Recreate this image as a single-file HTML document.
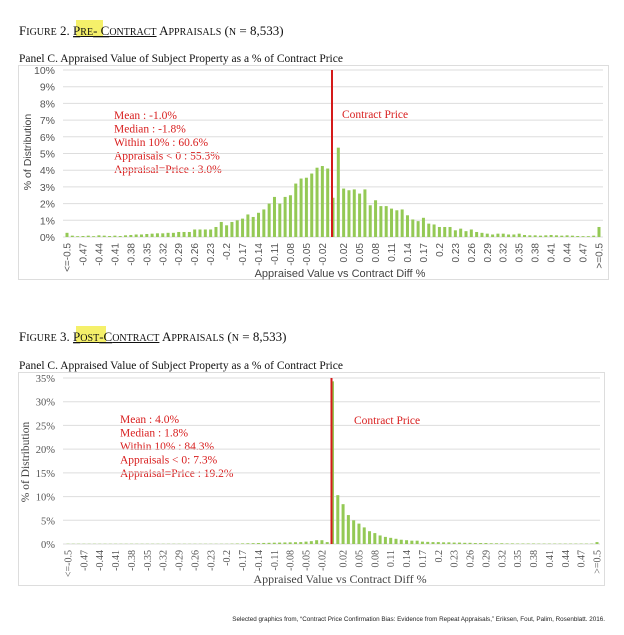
<!DOCTYPE html>
<html><head><meta charset="utf-8"><style>
body{margin:0;background:#fff;width:624px;height:635px;overflow:hidden}
svg{display:block}
.serif{font-family:"Liberation Serif",serif}
.sans{font-family:"Liberation Sans",sans-serif}
</style></head><body>
<svg id="s" width="624" height="635" xmlns="http://www.w3.org/2000/svg">
<rect x="0" y="0" width="624" height="635" fill="#fff"/>
<rect x="76" y="20" width="27" height="17" fill="#f5f06a"/>
<text x="19" y="35" class="serif" font-size="13" fill="#111">F<tspan font-size="10">IGURE</tspan> 2.  <tspan text-decoration="underline">P<tspan font-size="10">RE</tspan>- C<tspan font-size="10">ONTRACT</tspan></tspan> A<tspan font-size="10">PPRAISALS</tspan> (<tspan font-size="10">N</tspan> = 8,533)</text>
<text x="19" y="62" class="serif" font-size="11.5" fill="#111">Panel C. Appraised Value of Subject Property as a % of Contract Price</text>
<rect x="18.5" y="65.5" width="590" height="214" fill="none" stroke="#ddd"/>
<text transform="translate(31,152) rotate(-90)" text-anchor="middle" class="sans" font-size="10.5" fill="#444">% of Distribution</text>
<text x="340" y="277" text-anchor="middle" class="sans" font-size="11" fill="#444">Appraised Value vs Contract Diff %</text>
<g class="serif" font-size="11.5" fill="#d81e1e">
<text x="114" y="119">Mean : -1.0%</text>
<text x="114" y="132.5">Median : -1.8%</text>
<text x="114" y="146">Within 10% : 60.6%</text>
<text x="114" y="159.5">Appraisals &lt; 0 : 55.3%</text>
<text x="114" y="173">Appraisal=Price : 3.0%</text>
<text x="342" y="118">Contract Price</text>
</g>
<rect x="76" y="326" width="30" height="17" fill="#f5f06a"/>
<text x="19" y="341" class="serif" font-size="13" fill="#111">F<tspan font-size="10">IGURE</tspan> 3.  <tspan text-decoration="underline">P<tspan font-size="10">OST</tspan>-C<tspan font-size="10">ONTRACT</tspan></tspan> A<tspan font-size="10">PPRAISALS</tspan> (<tspan font-size="10">N</tspan> = 8,533)</text>
<text x="19" y="369" class="serif" font-size="11.5" fill="#111">Panel C. Appraised Value of Subject Property as a % of Contract Price</text>
<rect x="18.5" y="372.5" width="586" height="213" fill="none" stroke="#ddd"/>
<text transform="translate(29,462) rotate(-90)" text-anchor="middle" class="serif" font-size="11.5" fill="#444">% of Distribution</text>
<text x="340" y="583" text-anchor="middle" class="serif" font-size="12" fill="#444">Appraised Value vs Contract Diff %</text>
<g class="serif" font-size="11.5" fill="#d81e1e">
<text x="120" y="423">Mean : 4.0%</text>
<text x="120" y="436.5">Median : 1.8%</text>
<text x="120" y="450">Within 10% : 84.3%</text>
<text x="120" y="463.5">Appraisals &lt; 0: 7.3%</text>
<text x="120" y="477">Appraisal=Price : 19.2%</text>
<text x="354" y="424">Contract Price</text>
</g>
<text x="605" y="621" text-anchor="end" class="sans" font-size="6.3" fill="#222">Selected graphics from, “Contract Price Confirmation Bias: Evidence from Repeat Appraisals,” Eriksen, Fout, Palim, Rosenblatt. 2016.</text>
<g id="g"></g>
</svg>
<script>
var d1=[0.25,0.08,0.05,0.06,0.08,0.05,0.1,0.08,0.06,0.08,0.06,0.1,0.12,0.15,0.15,0.18,0.2,0.22,0.22,0.25,0.25,0.3,0.3,0.3,0.45,0.45,0.45,0.45,0.6,0.9,0.7,0.9,1.0,1.1,1.35,1.2,1.45,1.65,2.0,2.4,2.0,2.4,2.5,3.2,3.5,3.55,3.8,4.15,4.25,4.1,2.35,5.35,2.9,2.8,2.85,2.6,2.85,1.9,2.2,1.85,1.85,1.7,1.6,1.65,1.3,1.05,0.95,1.15,0.8,0.75,0.6,0.6,0.6,0.4,0.5,0.35,0.45,0.3,0.25,0.2,0.15,0.2,0.2,0.15,0.15,0.2,0.12,0.1,0.1,0.08,0.1,0.12,0.1,0.08,0.1,0.08,0.06,0.05,0.05,0.08,0.6];
var d2=[];for(var i=0;i<101;i++){var v=0.05;if(i>30&&i<45)v=0.05+(i-30)*0.025;d2.push(v);}
[0.5,0.6,0.8,0.8,0.4].forEach(function(v,k){d2[45+k]=v});
var r=[34.3,10.3,8.4,6.1,5.0,4.3,3.5,2.7,2.3,1.8,1.5,1.3,1.1,0.9,0.8,0.7,0.7,0.5,0.45,0.4,0.4,0.35,0.35,0.3,0.3,0.25,0.25,0.2,0.2,0.2,0.15,0.15,0.15,0.12,0.12,0.1,0.1,0.1,0.1,0.08,0.08,0.08,0.08,0.08,0.08,0.08,0.08,0.08,0.08,0.08,0.4];
r.forEach(function(v,k){d2[50+k]=v});
var labs=[[0,'&lt;=-0.5']];
for(var i=3;i<=48;i+=3)labs.push([i,String(Math.round((-0.5+i*0.01)*100)/100)]);
for(var i=52;i<=97;i+=3)labs.push([i,String(Math.round((-0.5+i*0.01)*100)/100)]);
labs.push([100,'&gt;=0.5']);
var h='';
function chart(o){
 var x0=o.x0,x1=o.x1,step=(x1-x0)/100;
 for(var t=0;t<=o.nt;t++){var y=o.y0-(o.y0-o.ytop)*t/o.nt;
  h+='<line x1="63" x2="'+o.gx+'" y1="'+y+'" y2="'+y+'" stroke="#ddd" stroke-width="1"/>';
  h+='<text x="55" y="'+(y+4)+'" text-anchor="end" font-family="'+o.font+'" font-size="10.5" fill="#555">'+(t*o.tstep)+'%</text>';}
 for(var i=0;i<101;i++){var x=x0+i*step,hh=o.d[i]/o.max*(o.y0-o.ytop);
  h+='<rect x="'+(x-1.5)+'" y="'+(o.y0-hh)+'" width="3" height="'+hh+'" fill="#94c955"/>';}
 labs.forEach(function(l){var x=x0+l[0]*step;
   h+='<text transform="translate('+(x+3.5)+','+(o.y0+6)+') rotate(-90)" text-anchor="end" font-family="'+o.font+'" font-size="10" fill="#555">'+l[1]+'</text>';});
 h+='<line x1="'+(x0+50*step-1)+'" x2="'+(x0+50*step-1)+'" y1="'+o.ytop+'" y2="'+o.y0+'" stroke="#d41a1a" stroke-width="2"/>';
}
chart({x0:67,x1:599,y0:237,ytop:70,nt:10,tstep:1,max:10,d:d1,gx:603,font:'Liberation Sans'});
chart({x0:68,x1:597,y0:544,ytop:378,nt:7,tstep:5,max:35,d:d2,gx:600,font:'Liberation Serif'});
document.getElementById('g').innerHTML=h;
</script>
</body></html>
